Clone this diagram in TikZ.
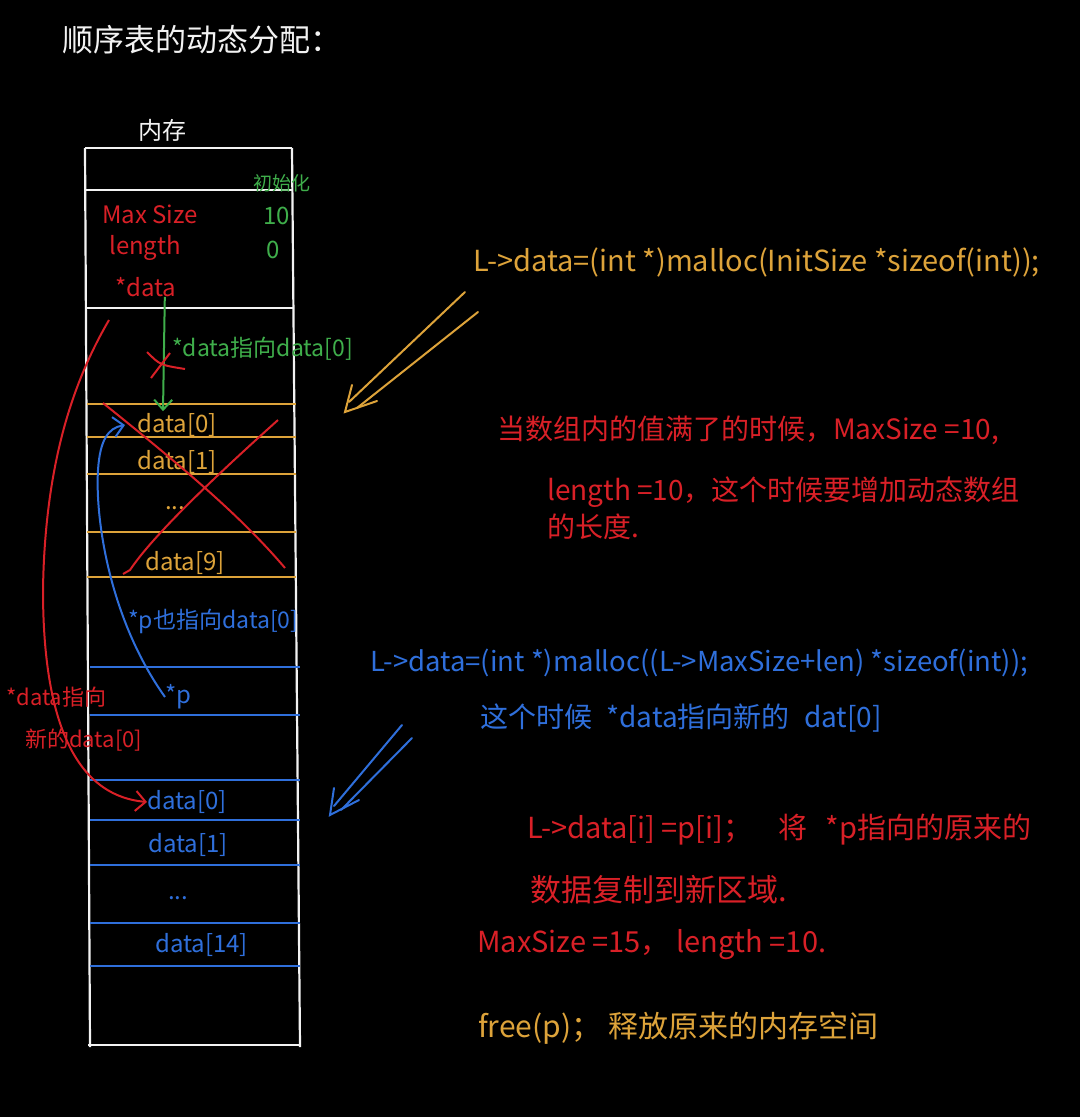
\documentclass[tikz,border=0pt]{standalone}
\usepackage{fontspec}
\newfontfamily\cjk{Noto Sans CJK SC}
\usetikzlibrary{arrows.meta}
\definecolor{inkWhite}{HTML}{F2F2F2}
\definecolor{inkRed}{HTML}{D92027}
\definecolor{inkGold}{HTML}{DDA33A}
\definecolor{inkGreen}{HTML}{3FAE4B}
\definecolor{inkBlue}{HTML}{2F6FDB}
\tikzset{
  wall/.style={inkWhite, line width=2.2pt},
  rowO/.style={inkGold, line width=2.2pt},
  rowB/.style={inkBlue, line width=2.2pt},
  strokeR/.style={inkRed, line width=2pt},
  arrowG/.style={-{Straight Barb[length=10pt, width=18pt]}, inkGreen, line width=2pt},
  arrowB/.style={-{Straight Barb[length=10pt, width=20pt]}, inkBlue, line width=2pt},
  arrowR/.style={-{Straight Barb[length=10pt, width=20pt]}, inkRed, line width=2pt},
  hollowO/.style={inkGold, line width=2pt, line cap=round},
  hollowB/.style={inkBlue, line width=2pt, line cap=round},
  label/.style={anchor=west, inner sep=0pt, font=\cjk\fontsize{24}{26}\selectfont},
  note/.style={anchor=west, inner sep=0pt, font=\cjk\fontsize{28}{30}\selectfont},
  txtW/.style={label, text=inkWhite},
  txtR/.style={label, text=inkRed},
  txtO/.style={label, text=inkGold},
  txtG/.style={label, text=inkGreen},
  txtB/.style={label, text=inkBlue},
}
\begin{document}
\begin{tikzpicture}[x=1pt, y=-1pt]
  \fill[black] (0,0) rectangle (1080,1117);
  \useasboundingbox (0,0) rectangle (1080,1117);

  % title
  \node[txtW, font=\cjk\fontsize{31}{33}\selectfont] (title) at (62,40) {顺序表的动态分配：};
  \node[txtW] (mem) at (138,130) {内存};

  % memory column
  \draw[wall] (85,148) -- (292,148);
  \draw[wall] (85,148) -- (90,1047);
  \draw[wall] (292,148) -- (300,1047);
  \draw[wall] (88,1045) -- (300,1045);
  \draw[wall] (85,190) -- (292,190);
  \draw[wall] (86,308) -- (293,308);
  \foreach \y in {404,437,474,532,577} \draw[rowO] (87,\y) -- (296,\y);
  \foreach \y in {667,715,780,820,865,923,966} \draw[rowB] (90,\y) -- (300,\y);

  % header fields
  \node[txtG, font=\cjk\fontsize{19}{21}\selectfont] (init) at (253,183) {初始化};
  \node[txtR] (maxsize) at (102,214) {Max Size};
  \node[txtG] (maxval) at (263,216) {10};
  \node[txtR] (len) at (109,248) {length};
  \node[txtG] (lenval) at (266,250) {0};
  \node[txtR] (dataptr) at (115,287) {*data};
  \node[txtG, font=\cjk\fontsize{23}{25}\selectfont] (gnote) at (172,349) {*data指向data[0]};

  % old array
  \node[txtO] (od0) at (137,425) {data[0]};
  \node[txtO] (od1) at (137,462) {data[1]};
  \node[txtO] (oddots) at (165,508) {...};
  \node[txtO] (od9) at (145,563) {data[9]};

  % p and new array
  \node[txtB, font=\cjk\fontsize{23}{25}\selectfont] (pnote) at (128,621) {*p也指向data[0]};
  \node[txtB] (pptr) at (165,697) {*p};
  \node[txtR, font=\cjk\fontsize{22}{24}\selectfont] (rnote1) at (6,697) {*data指向};
  \node[txtR, font=\cjk\fontsize{22}{24}\selectfont] (rnote2) at (25,740) {新的data[0]};
  \node[txtB] (bd0) at (147,802) {data[0]};
  \node[txtB] (bd1) at (148,845) {data[1]};
  \node[txtB] (bddots) at (168,898) {...};
  \node[txtB] (bd14) at (155,945) {data[14]};

  % notes on the right
  \node[note, text=inkGold, font=\cjk\fontsize{29}{31}\selectfont] (malloc1) at (473,262) {L->data=(int *)malloc(InitSize *sizeof(int));};
  \node[note, text=inkRed] (full1) at (497,430) {当数组内的值满了的时候，MaxSize =10,};
  \node[note, text=inkRed] (full2) at (547,492) {length =10，这个时候要增加动态数组};
  \node[note, text=inkRed] (full3) at (547,527) {的长度.};
  \node[note, text=inkBlue, font=\cjk\fontsize{27.5}{30}\selectfont] (malloc2) at (370,663) {L->data=(int *)malloc((L->MaxSize+len) *sizeof(int));};
  \node[note, text=inkBlue] (newptr) at (480,718) {这个时候\hspace{8pt} *data指向新的\hspace{8pt} dat[0]};
  \node[note, text=inkRed, font=\cjk\fontsize{29}{31}\selectfont] (copy1) at (527,830) {L->data[i] =p[i]；\hspace{26pt}将\hspace{18pt}*p指向的原来的};
  \node[note, text=inkRed, font=\cjk\fontsize{31}{33}\selectfont] (copy2) at (530,890) {数据复制到新区域.};
  \node[note, text=inkRed, font=\cjk\fontsize{29}{31}\selectfont] (sizes) at (477,945) {MaxSize =15，\ length =10.};
  \node[note, text=inkGold, font=\cjk\fontsize{30}{32}\selectfont] (freep) at (478,1028) {free(p)；\ 释放原来的内存空间};

  % pointers
  \draw[arrowG] ([xshift=19pt]dataptr.south) -- ([xshift=26pt, yshift=2pt]od0.north west);
  \draw[strokeR] (147,352) .. controls (160,365) .. (185,369);
  \draw[strokeR] (170,353) -- (151,378);
  \draw[strokeR] (103,403) .. controls (180,465) and (240,515) .. (285,568);
  \draw[strokeR] (278,420) .. controls (200,490) and (150,540) .. (130,570) -- (123,574);
  \draw[arrowB] (pptr.west) .. controls (110,620) and (95,520) .. (98,470)
    .. controls (100,440) and (108,428) .. ([xshift=-12pt]od0.west);
  \coordinate (oldtop) at (109,320);
  \draw[arrowR] (oldtop) .. controls (80,370) and (45,450) .. (43,590)
    .. controls (43,710) and (70,795) .. (bd0.west);

  % hollow arrows from the notes
  \coordinate (oTip) at (345,412);
  \draw[hollowO] (465,292) -- (349,402);
  \draw[hollowO] (478,312) -- (357,408);
  \draw[hollowO] (352,385) -- (oTip) -- (377,401);
  \coordinate (bTip) at (330,815);
  \draw[hollowB] (402,725) -- (334,806);
  \draw[hollowB] (412,738) -- (341,810);
  \draw[hollowB] (334,788) -- (bTip) -- (359,800);
\end{tikzpicture}
\end{document}
